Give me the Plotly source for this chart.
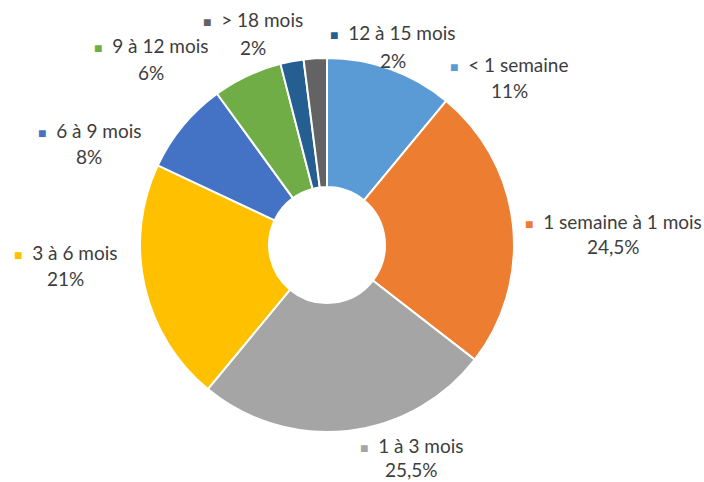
import plotly.graph_objects as go

# Durée – répartition en pourcentage
categories = ["< 1 semaine", "1 semaine à 1 mois", "1 à 3 mois", "3 à 6 mois",
              "6 à 9 mois", "9 à 12 mois", "12 à 15 mois", "> 18 mois"]
values = [11, 24.5, 25.5, 21, 8, 6, 2, 2]
pct_labels = ["11%", "24,5%", "25,5%", "21%", "8%", "6%", "2%", "2%"]

colors = ["#5B9BD5", "#ED7D31", "#A5A5A5", "#FFC000",
          "#4472C4", "#70AD47", "#255E91", "#636363"]

W, H = 704, 482
# label block centres in pixels (x, y of name line, y of percent line)
label_pos = [(509, 65, 90), (613, 222, 247), (411, 445, 469), (65, 252, 278),
             (89, 131, 157), (151, 45, 72), (393, 33, 60), (253, 20, 48)]

cx, cy, r = 327, 245, 187

fig = go.Figure(go.Pie(
    labels=categories,
    values=values,
    hole=0.31,
    sort=False,
    direction="clockwise",
    rotation=0,
    marker=dict(colors=colors, line=dict(color="white", width=2)),
    textinfo="none",
    hoverinfo="label+percent",
    showlegend=False,
    domain=dict(x=[(cx - r) / W, (cx + r) / W], y=[1 - (cy + r) / H, 1 - (cy - r) / H]),
))

font = dict(family="Lato, Open Sans, sans-serif", size=19, color="#3d3d3d")
for cat, pct, col, (px, py1, py2) in zip(categories, pct_labels, colors, label_pos):
    fig.add_annotation(
        x=px / W, y=1 - py1 / H, xref="paper", yref="paper",
        text=f"<span style='color:{col};font-size:14px'>■</span>  {cat}",
        showarrow=False, font=font, xanchor="center", yanchor="middle",
    )
    fig.add_annotation(
        x=px / W, y=1 - py2 / H, xref="paper", yref="paper",
        text=pct, showarrow=False, font=font, xanchor="center", yanchor="middle",
    )

fig.update_layout(
    width=W, height=H,
    margin=dict(l=0, r=0, t=0, b=0),
    paper_bgcolor="white",
    plot_bgcolor="white",
)

fig.write_html("out.html")
